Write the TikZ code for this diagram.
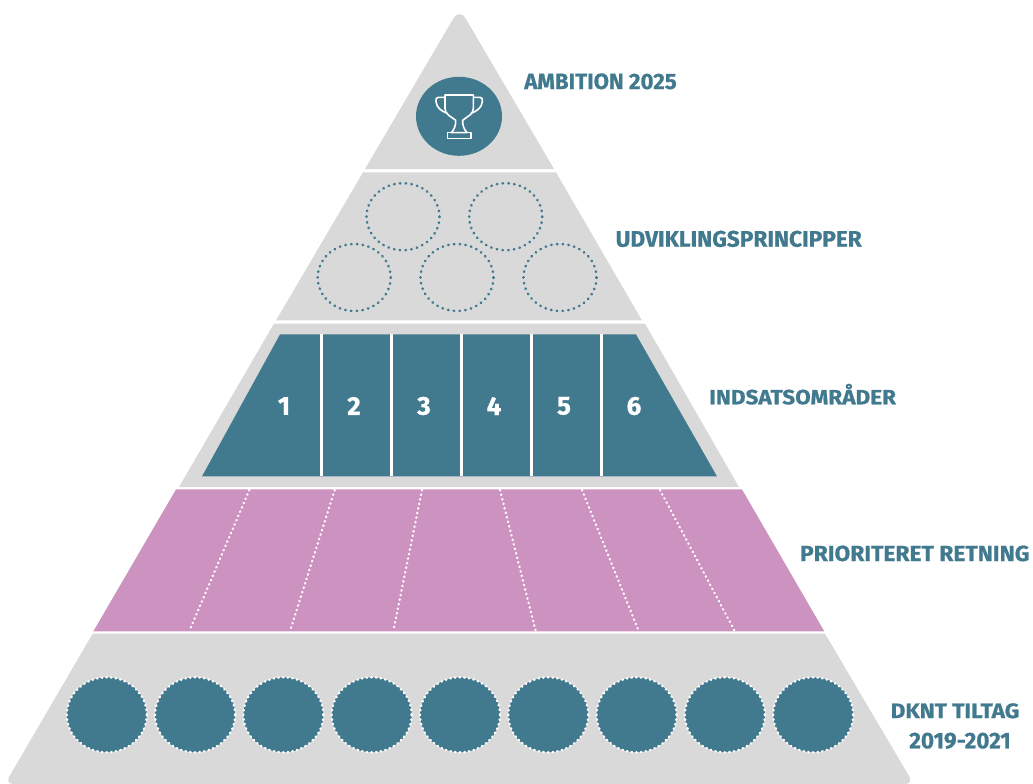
\documentclass[tikz,border=0pt]{standalone}
\usepackage{fontspec}
\setmainfont{Fira Sans}[BoldFeatures={FakeBold=0.7}]
\definecolor{teal}{HTML}{41798E}
\definecolor{greytier}{HTML}{D9D9D9}
\definecolor{pinktier}{HTML}{CD93C0}
\tikzset{
  px/.style={x=1pt,y=-1pt},
  tier/.style={fill=greytier,draw=none},
  textlabel/.style={anchor=base west,inner sep=0pt,outer sep=0pt,text=teal,font=\bfseries},
  digit/.style={inner sep=0pt,text=white,font=\bfseries\fontsize{26}{26}\selectfont},
  divider/.style={draw=white,line width=3pt},
  pinkdots/.style={draw=white,line width=2.3pt,line cap=round,dash pattern=on 0.5pt off 4.15pt},
  tealring/.style={draw=teal,line width=2.6pt,line cap=round,dash pattern=on 0.5pt off 5.28pt},
  whitering/.style={fill=teal,draw=white,line width=2.4pt,line cap=round,dash pattern=on 0.5pt off 4.17pt},
  trophy/.style={draw=white,line width=1.6pt,line join=round}
}
\newcommand{\fitlabel}[3]{\resizebox{#1pt}{#2pt}{#3}}
\begin{document}
\begin{tikzpicture}[px]
\useasboundingbox (0,0) rectangle (1033,784);
% tiers
\path[tier] (365,169) -- (453.4,18.4) .. controls (456.8,12.7) and (462.2,12.7) .. (465.6,18.4) -- (554,169) -- cycle;
\path[tier] (363,172.4) -- (556,172.4) -- (642,320.4) -- (276,320.4) -- cycle;
\path[tier] (274,323.6) -- (645,323.6) -- (739,487) -- (179,487) -- cycle;
\path[fill=pinktier] (176,489.4) -- (742,489.4) -- (824.3,631.4) -- (93.3,631.4) -- cycle;
\path[tier] (92.7,633.6) -- (825,633.6) -- (909.3,776.5) .. controls (911.5,780.5) and (910,784) .. (905,784) -- (13.5,784) .. controls (8.5,784) and (7,780.5) .. (9.3,776.5) -- cycle;
% ambition
\path[fill=teal] (459,116.3) ellipse [x radius=43,y radius=39.5];
\begin{scope}[shift={(420,75)},x=0.3333pt,y=-0.3333pt]
  \draw[trophy] (75,60) -- (160,60) -- (160,100) .. controls (160,113) and (150,121) .. (140,127) -- (128,136) .. controls (127,150) and (132,163) .. (141,173) -- (94,173) .. controls (103,163) and (108,150) .. (107,136) -- (95,127) .. controls (85,121) and (75,113) .. (75,100) -- cycle;
  \draw[trophy] (82,173) rectangle (153,190);
  \draw[trophy] (75,67) -- (55,67) .. controls (48,67) and (47,72) .. (48,80) .. controls (50,97) and (62,108) .. (82,115);
  \draw[trophy] (160,67) -- (180,67) .. controls (187,67) and (188,72) .. (187,80) .. controls (185,97) and (173,108) .. (153,115);
\end{scope}
% principles
\draw[tealring] (403,216.7) ellipse [x radius=36.5,y radius=33.5];
\draw[tealring] (505.7,216.7) ellipse [x radius=36.5,y radius=33.5];
\draw[tealring] (354.2,277.5) ellipse [x radius=36.5,y radius=33.5];
\draw[tealring] (457,277.5) ellipse [x radius=36.5,y radius=33.5];
\draw[tealring] (560,277.5) ellipse [x radius=36.5,y radius=33.5];
% focus areas
\path[fill=teal] (280,334.4) -- (636,334.4) -- (717,476.4) -- (202,476.4) -- cycle;
\foreach \x in {321,391,461,531,601} \draw[divider] (\x,334.4) -- (\x,476.4);
\node[digit] (d1) at (284,406) {1};
\node[digit] (d2) at (354,406) {2};
\node[digit] (d3) at (424,406) {3};
\node[digit] (d4) at (494,406) {4};
\node[digit] (d5) at (564,406) {5};
\node[digit] (d6) at (634,406) {6};
% priority direction
\draw[pinkdots] (249.3,490) -- (189.3,631);
\draw[pinkdots] (334.7,490) -- (290,631);
\draw[pinkdots] (422,490) -- (393.3,631);
\draw[pinkdots] (500,490) -- (535.7,631);
\draw[pinkdots] (582,490) -- (638.7,631);
\draw[pinkdots] (660,490) -- (734.7,631);
% initiatives
\foreach \x in {106.8,195.1,283.4,371.7,460,548.3,636.6,724.9,813.2}
  \path[whitering] (\x,714.8) ellipse [x radius=40,y radius=37.5];
% labels
\node[textlabel] (l1) at (524.3,89) {\fitlabel{152.4}{15.7}{AMBITION 2025}};
\node[textlabel] (l2) at (615.7,246.7) {\fitlabel{246}{16}{UDVIKLINGSPRINCIPPER}};
\node[textlabel] (l3) at (709.3,404.3) {\fitlabel{186.7}{20.5}{INDSATSOMRÅDER}};
\node[textlabel] (l4) at (800,561) {\fitlabel{229.5}{15.5}{PRIORITERET RETNING}};
\node[textlabel] (l5) at (890.7,718) {\fitlabel{128.6}{14.8}{DKNT TILTAG}};
\node[textlabel] (l6) at (909.3,748.3) {\fitlabel{101.4}{15.6}{2019-2021}};
\end{tikzpicture}
\end{document}
